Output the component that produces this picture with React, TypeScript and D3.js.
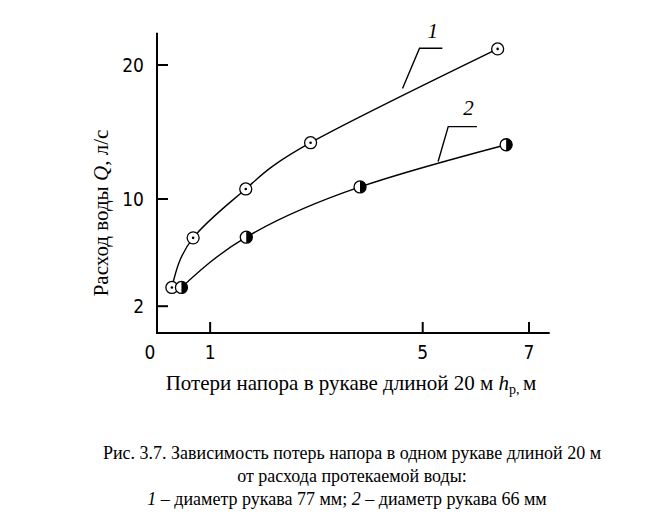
import { useEffect, useRef } from 'react';
import * as d3 from 'd3';

// curve 1 — hose 77 mm, curve 2 — hose 66 mm
const lossX1 = [0.28, 0.68, 1.67, 2.89, 6.41];
const flowY1 = [3.4, 7.1, 10.75, 14.2, 21.2];
const lossX2 = [0.46, 1.68, 3.82, 6.57];
const flowY2 = [3.4, 7.15, 10.9, 14.05];

const xTicks = [1, 5, 7];
const yTicks = [2, 10, 20];

// leader lines: [anchor on curve, bend, end], label position
const leader1 = [[4.62, 18.25], [4.94, 21.25], [5.37, 21.25]];
const leader2 = [[5.29, 12.8], [5.48, 15.4], [6.02, 15.4]];
const labelPos1 = [5.19, 22.05];
const labelPos2 = [5.86, 16.25];

const serif = '"Liberation Serif", "DejaVu Serif", serif';
const narrow = '"Liberation Sans Narrow", "DejaVu Sans Condensed", "Liberation Sans", sans-serif';

export default function App() {
    const plotRef = useRef(null);

    useEffect(() => {
        const svg = d3.select(plotRef.current);
        svg.selectAll('*').remove();

        const x = d3.scaleLinear().domain([0, 7]).range([157, 529]);
        const y = d3.scaleLinear().domain([0, 20]).range([333, 65]);

        // axes
        svg.append('line')
            .attr('x1', x(0)).attr('x2', x(7.39))
            .attr('y1', y(0)).attr('y2', y(0))
            .attr('stroke', '#000').attr('stroke-width', 2);
        svg.append('line')
            .attr('x1', x(0)).attr('x2', x(0))
            .attr('y1', y(0) + 1).attr('y2', y(22.4))
            .attr('stroke', '#000').attr('stroke-width', 2);

        xTicks.forEach((t) => {
            svg.append('line')
                .attr('x1', x(t)).attr('x2', x(t))
                .attr('y1', y(0)).attr('y2', y(0) - 11)
                .attr('stroke', '#000').attr('stroke-width', 2);
            svg.append('text')
                .attr('x', x(t)).attr('y', y(0) + 26)
                .attr('text-anchor', 'middle')
                .style('font-family', narrow).style('font-size', '19px')
                .text(t);
        });
        svg.append('text')
            .attr('x', x(0) - 7).attr('y', y(0) + 26)
            .attr('text-anchor', 'middle')
            .style('font-family', narrow).style('font-size', '19px')
            .text('0');

        yTicks.forEach((t) => {
            svg.append('line')
                .attr('x1', x(0)).attr('x2', x(0) + 11)
                .attr('y1', y(t)).attr('y2', y(t))
                .attr('stroke', '#000').attr('stroke-width', 2);
            svg.append('text')
                .attr('x', x(0) - 13).attr('y', y(t) + 7)
                .attr('text-anchor', 'end')
                .style('font-family', narrow).style('font-size', '19px')
                .text(t);
        });

        const line = d3.line()
            .x((d) => x(d[0]))
            .y((d) => y(d[1]))
            .curve(d3.curveNatural);

        const pts1 = lossX1.map((v, i) => [v, flowY1[i]]);
        const pts2 = lossX2.map((v, i) => [v, flowY2[i]]);

        [pts1, pts2].forEach((pts) => {
            svg.append('path')
                .attr('d', line(pts))
                .attr('fill', 'none')
                .attr('stroke', '#000')
                .attr('stroke-width', 1.4);
        });

        // leaders
        const straight = d3.line().x((d) => x(d[0])).y((d) => y(d[1]));
        [leader1, leader2].forEach((l) => {
            svg.append('path')
                .attr('d', straight(l))
                .attr('fill', 'none')
                .attr('stroke', '#000')
                .attr('stroke-width', 1.4);
        });
        [[labelPos1, '1'], [labelPos2, '2']].forEach(([p, s]) => {
            svg.append('text')
                .attr('x', x(p[0])).attr('y', y(p[1]))
                .attr('text-anchor', 'middle')
                .style('font-family', serif).style('font-style', 'italic')
                .style('font-size', '21px')
                .text(s);
        });

        const r = 6;
        // markers for curve 1: open circle with a dot
        pts1.forEach((d) => {
            svg.append('circle')
                .attr('cx', x(d[0])).attr('cy', y(d[1])).attr('r', r)
                .attr('fill', '#fff').attr('stroke', '#000').attr('stroke-width', 1.3);
            svg.append('circle')
                .attr('cx', x(d[0])).attr('cy', y(d[1])).attr('r', 1.3)
                .attr('fill', '#000');
        });
        // markers for curve 2: right half filled
        pts2.forEach((d) => {
            const cx = x(d[0]);
            const cy = y(d[1]);
            svg.append('circle')
                .attr('cx', cx).attr('cy', cy).attr('r', r)
                .attr('fill', '#fff').attr('stroke', '#000').attr('stroke-width', 1.3);
            svg.append('path')
                .attr('d', `M${cx},${cy - r} A${r},${r} 0 0 1 ${cx},${cy + r} Z`)
                .attr('fill', '#000');
        });
    }, []);

    return (
        <svg width={651} height={527}
            style={{ position: 'absolute', left: 0, top: 0, background: '#fff' }}>
            <g ref={plotRef} />
            <text x={103} y={213} transform="rotate(-90 103 213)" textAnchor="middle"
                style={{ fontFamily: serif, fontSize: '21px' }} dominantBaseline="middle">
                Расход воды <tspan fontStyle="italic">Q</tspan>, л/с
            </text>
            <text x={351} y={390} textAnchor="middle" style={{ fontFamily: serif, fontSize: '21px' }}>
                Потери напора в рукаве длиной 20 м <tspan fontStyle="italic">h</tspan>
                <tspan fontSize="14px" dy={4}>р, </tspan><tspan dy={-4}>м</tspan>
            </text>
            <g style={{ fontFamily: serif, fontSize: '18px' }} textAnchor="middle">
                <text x={352} y={459}>Рис. 3.7. Зависимость потерь напора в одном рукаве длиной 20 м</text>
                <text x={352} y={482}>от расхода протекаемой воды:</text>
                <text x={347} y={505}>
                    <tspan fontStyle="italic">1</tspan> – диаметр рукава 77 мм; <tspan fontStyle="italic">2</tspan> – диаметр рукава 66 мм
                </text>
            </g>
        </svg>
    );
}
